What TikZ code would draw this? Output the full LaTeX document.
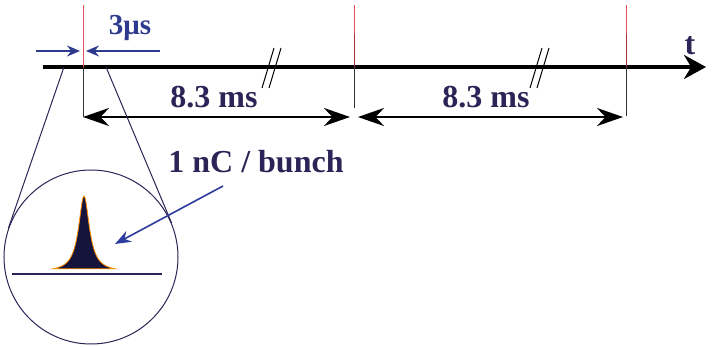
\documentclass[tikz,border=0pt]{standalone}
\usepackage{fontspec}
\setmainfont{Liberation Serif}
\usetikzlibrary{calc,arrows.meta}
\definecolor{ink}{HTML}{2D2356}
\definecolor{inkblue}{HTML}{2E3A8E}
\definecolor{arrblue}{HTML}{2C3C9C}
\definecolor{tickred}{HTML}{E8505E}
\definecolor{darkred}{HTML}{A8303A}
\definecolor{pulse}{HTML}{14143C}
\tikzset{
  lbl/.style={font=\bfseries\fontsize{32}{32}\selectfont,text=ink,inner sep=0pt},
  span/.style={line width=2.4pt,{Stealth[length=26pt,width=18pt]}-{Stealth[length=26pt,width=18pt]}},
  tick/.style={tickred,line width=1pt},
  drop/.style={black!80,line width=0.9pt},
  brk/.style={line width=1pt},
}
\begin{document}
\begin{tikzpicture}[x=1pt,y=-1pt,>=stealth]
\useasboundingbox (0,0) rectangle (717,347);
% time axis
\coordinate (t0) at (43,67);
\coordinate (t1) at (706,67);
\draw[line width=3.5pt,-{Stealth[length=22pt,width=24pt]}] (t0) -- (t1);
\node[lbl] (tlab) at (690,46) {t};
% bunch positions
\foreach \n/\x/\d in {a/83/117,b/354/108,c/626/116} {
  \coordinate (\n) at (\x,67);
  \draw[tick] (\x,5) -- (\n);
  \draw[drop] (\n) -- (\x,\d);
}
\draw[darkred,line width=1pt] (354,34) -- (b);
\draw[darkred,line width=1pt] (626,34) -- (c);
% breaks on the axis
\foreach \x in {268,536} {
  \draw[brk] (\x+6,48) -- (\x-6,88);
  \draw[brk] (\x+13,48) -- (\x+1,88);
}
% spacing
\coordinate (sa) at (83,117);
\coordinate (sb) at (350,117);
\coordinate (sc) at (358,117);
\coordinate (sd) at (623,117);
\draw[span] (sa) -- (sb);
\draw[span] (sc) -- (sd);
\node[lbl] (ms1) at (214,97) {8.3 ms};
\node[lbl] (ms2) at (486,97) {8.3 ms};
% bunch length
\coordinate (wl) at (36,51);
\coordinate (wr) at (160,51);
\draw[inkblue,line width=1.3pt,-{Stealth[length=13pt,width=11pt]}] (wl) -- (80,51);
\draw[inkblue,line width=1.3pt,-{Stealth[length=13pt,width=11pt]}] (wr) -- (86,51);
\node[lbl,text=inkblue,font=\bfseries\fontsize{29}{29}\selectfont] (len) at (130,28) {3μs};
% magnified bunch
\node[circle,draw=ink,line width=1pt,minimum size=174pt,inner sep=0pt] (zoom) at (91,257) {};
\coordinate (zl) at (64,67);
\coordinate (zr) at (106,67);
\draw[ink,line width=1pt] (zl) -- (tangent cs:node=zoom,point={(zl)},solution=1);
\draw[ink,line width=1pt] (zr) -- (tangent cs:node=zoom,point={(zr)},solution=2);
\draw[ink,line width=1.4pt] (12,274) -- (162,274);
\fill[pulse,draw=orange!90!yellow,line width=0.8pt]
  plot[domain=-31:31,samples=90,smooth] ({84+\x},{272-76/(1+(\x/6.5)^2)}) -- cycle;
\node[lbl] (q) at (256,162) {1 nC / bunch};
\coordinate (qf) at (223,186);
\coordinate (pk) at (115,244);
\draw[arrblue,line width=1.6pt,-{Stealth[length=16pt,width=12pt]}] (qf) -- (pk);
\end{tikzpicture}
\end{document}
